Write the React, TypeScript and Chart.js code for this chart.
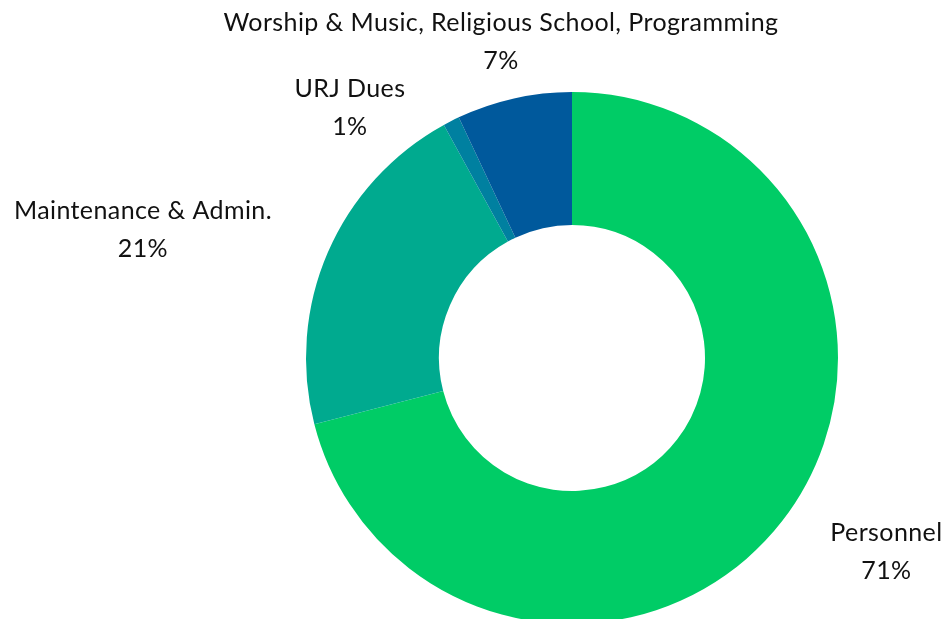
import React, { useEffect, useRef } from "react";
import { Chart, registerables } from "chart.js";

Chart.register(...registerables);

const categories = [
  "Personnel",
  "Maintenance & Admin.",
  "URJ Dues",
  "Worship & Music, Religious School, Programming",
];
const values = [71, 21, 1, 7];
const colors = ["#00CC66", "#00AA8F", "#0080A0", "#00599C"];
// label anchor offsets relative to doughnut centre, in units of outer radius
const labelOffsets: [number, number][] = [
  [1.182, 0.73],
  [-1.613, -0.48],
  [-0.835, -0.94],
  [-0.267, -1.19],
];

const FONT = "Lato, 'Noto Sans', sans-serif";

const labelPlugin = {
  id: "outsideLabels",
  afterDraw(chart: any) {
    const ctx = chart.ctx;
    const meta = chart.getDatasetMeta(0);
    const data = chart.data.datasets[0].data as number[];
    const total = data.reduce((a, b) => a + b, 0);
    ctx.save();
    ctx.fillStyle = "#111111";
    ctx.textAlign = "center";
    ctx.textBaseline = "middle";
    ctx.font = `25px ${FONT}`;
    try {
      (ctx as any).letterSpacing = "0.4px";
    } catch (e) {}
    meta.data.forEach((arc: any, i: number) => {
      const r = arc.outerRadius;
      const cx = arc.x + labelOffsets[i][0] * r;
      const cy = arc.y + labelOffsets[i][1] * r;
      ctx.fillText(String(chart.data.labels[i]), cx, cy - 19);
      ctx.fillText(Math.round((data[i] / total) * 100) + "%", cx, cy + 19);
    });
    ctx.restore();
  },
};

export default function App() {
  const ref = useRef<HTMLCanvasElement>(null);
  useEffect(() => {
    if (!ref.current) return;
    const chart = new Chart(ref.current, {
      type: "doughnut",
      data: {
        labels: categories,
        datasets: [
          {
            data: values,
            backgroundColor: colors,
            borderWidth: 0,
          },
        ],
      },
      options: {
        animation: false,
        responsive: false,
        devicePixelRatio: 1,
        cutout: "50%",
        layout: { padding: { left: 306, right: 108, top: 92, bottom: 16 } },
        plugins: {
          legend: { display: false },
          tooltip: { enabled: false },
        },
      },
      plugins: [labelPlugin],
    });
    return () => chart.destroy();
  }, []);
  return (
    <div
      style={{
        position: "fixed",
        left: 0,
        top: 0,
        width: 946,
        height: 619,
        overflow: "hidden",
        background: "#fff",
      }}
    >
      <canvas ref={ref} width={946} height={640} style={{ width: 946, height: 640 }} />
    </div>
  );
}
